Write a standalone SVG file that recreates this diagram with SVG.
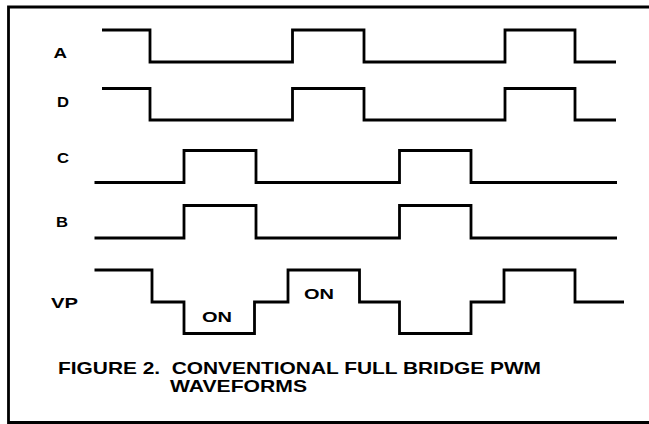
<svg xmlns="http://www.w3.org/2000/svg" width="649" height="424" viewBox="0 0 649 424">
<style>
.w{fill:none;stroke:#000;stroke-width:2.8;stroke-linejoin:miter;stroke-linecap:butt}
.lbl{font-family:"Liberation Sans",Arial,sans-serif;font-weight:bold;font-size:14.5px;fill:#000}
.on{font-family:"Liberation Sans",Arial,sans-serif;font-weight:bold;font-size:15.5px;fill:#000}
.cap{font-family:"Liberation Sans",Arial,sans-serif;font-weight:bold;font-size:16.5px;fill:#000}
</style>
<rect x="0" y="0" width="649" height="424" fill="#fff"/>
<g id="frame">
<path class="w" d="M649 7 H8.5 V422.5 H649"/>
</g>
<g id="wave-A">
<text class="lbl" x="53.5" y="58" textLength="13.5" lengthAdjust="spacingAndGlyphs">A</text>
<path class="w" d="M102 30 H150 V62 H292.5 V30 H364 V62 H505 V30 H575 V62 H616"/>
</g>
<g id="wave-D">
<text class="lbl" x="57" y="107" textLength="12" lengthAdjust="spacingAndGlyphs">D</text>
<path class="w" d="M102 88.5 H150 V120 H292.5 V88.5 H364 V120 H505 V88.5 H575 V120 H616"/>
</g>
<g id="wave-C">
<text class="lbl" x="57" y="163" textLength="12" lengthAdjust="spacingAndGlyphs">C</text>
<path class="w" d="M94.5 182.5 H184 V150.5 H256 V182.5 H399.5 V150.5 H471 V182.5 H617"/>
</g>
<g id="wave-B">
<text class="lbl" x="56" y="227" textLength="12" lengthAdjust="spacingAndGlyphs">B</text>
<path class="w" d="M94.5 238 H184 V205.5 H256 V238 H399.5 V205.5 H471 V238 H617"/>
</g>
<g id="wave-VP">
<text class="lbl" x="51" y="308" textLength="27" lengthAdjust="spacingAndGlyphs">VP</text>
<path class="w" d="M94.5 270 H152 V302 H184 V333.5 H254.5 V302 H288 V270 H359.5 V302 H399.5 V333.5 H471 V302 H504 V270 H575 V302 H624"/>
<text class="on" x="202" y="321.5" textLength="30" lengthAdjust="spacingAndGlyphs">ON</text>
<text class="on" x="304" y="298.5" textLength="30" lengthAdjust="spacingAndGlyphs">ON</text>
</g>
<g id="caption">
<text class="cap" x="58" y="374" textLength="483" lengthAdjust="spacingAndGlyphs" xml:space="preserve">FIGURE 2.  CONVENTIONAL FULL BRIDGE PWM</text>
<text class="cap" x="170" y="392" textLength="137" lengthAdjust="spacingAndGlyphs">WAVEFORMS</text>
</g>
</svg>
